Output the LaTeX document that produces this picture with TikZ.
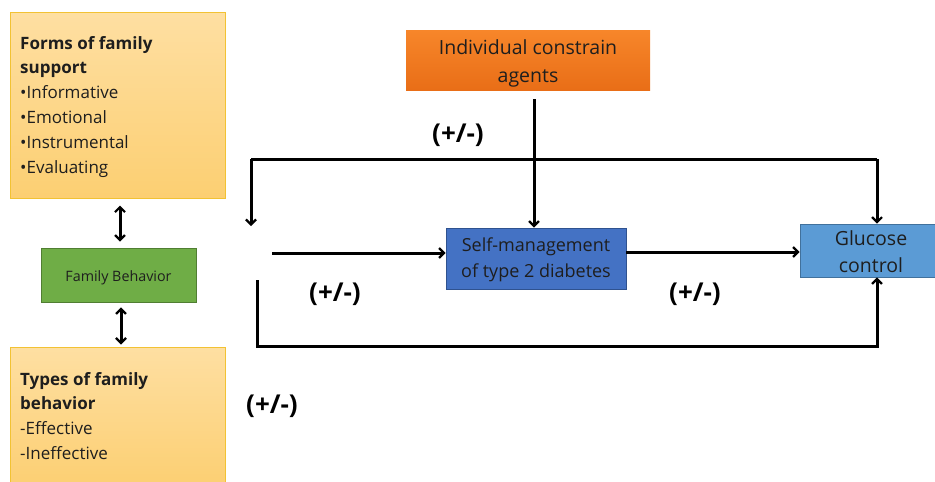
\documentclass[tikz,border=0pt]{standalone}
\usepackage{fontspec}
\setmainfont{Open Sans}
\usetikzlibrary{arrows.meta,calc}
\definecolor{txt}{HTML}{1E1E1E}
\definecolor{goldline}{HTML}{F2C233}
\definecolor{paleA}{HTML}{FEDFA2}
\definecolor{paleB}{HTML}{FCCF72}
\definecolor{orgA}{HTML}{F7862A}
\definecolor{orgB}{HTML}{E96E17}
\definecolor{grn}{HTML}{6FAD46}
\definecolor{grnline}{HTML}{507E32}
\definecolor{bluedark}{HTML}{4472C4}
\definecolor{bluedarkline}{HTML}{2F528F}
\definecolor{bluelight}{HTML}{5B9BD5}
\definecolor{bluelightline}{HTML}{41719C}
\newcommand{\bul}{•}
\tikzset{
  yellowbox/.style={draw=goldline, line width=1pt, top color=paleA, bottom color=paleB, inner sep=0pt},
  orangebox/.style={top color=orgA, bottom color=orgB, inner sep=0pt},
  greenbox/.style={draw=grnline, line width=0.8pt, fill=grn, inner sep=0pt},
  bluebox/.style={draw=bluedarkline, line width=0.8pt, fill=bluedark, inner sep=0pt},
  lbluebox/.style={draw=bluelightline, line width=0.8pt, fill=bluelight, inner sep=0pt},
  conn/.style={line width=3pt, draw=black},
  arr/.style={conn, -{Straight Barb[length=5pt,width=10pt,line width=2.2pt]}},
  darr/.style={conn, {Straight Barb[length=5pt,width=10pt,line width=2.2pt]}-{Straight Barb[length=5pt,width=10pt,line width=2.2pt]}},
  lbl/.style={font=\fontsize{26}{30}\selectfont\bfseries, text=black, inner sep=0pt},
  bodytxt/.style={text=txt, inner sep=0pt, align=left, anchor=north west, font=\fontsize{17}{25}\selectfont},
}
\begin{document}
\begin{tikzpicture}[x=1pt,y=-1pt]
\useasboundingbox (0,0) rectangle (935,482);
% boxes
\node[yellowbox, minimum width=215pt, minimum height=186pt] (forms) at (117.5,105) {};
\node[yellowbox, minimum width=215pt, minimum height=140pt] (types) at (117.5,417) {};
\node[greenbox, minimum width=155pt, minimum height=54pt] (famb) at (118.5,275) {};
\node[orangebox, minimum width=244pt, minimum height=60pt] (indiv) at (528,60) {};
\node[bluebox, minimum width=180pt, minimum height=61pt] (selfm) at (536,258.5) {};
\node[lbluebox, minimum width=142pt, minimum height=53pt] (gluc) at (871,250.5) {};
% texts
\node[text=txt, inner sep=0pt, font=\fontsize{14.3}{16}\selectfont] (fambtxt) at (118.5,278) {Family Behavior};
\node[bodytxt] (formstxt) at (20,36)
  {\textbf{Forms of family}\\[-1pt]\textbf{support}\\\bul Informative\\\bul Emotional\\\bul Instrumental\\\bul Evaluating};
\node[bodytxt] (typestxt) at (20,372)
  {\textbf{Types of family}\\[-1pt]\textbf{behavior}\\-Effective\\-Ineffective};
\node[text=txt, align=center, inner sep=0pt, font=\fontsize{19.5}{28}\selectfont] (indivtxt) at (528,63)
  {Individual constrain\\agents};
\node[text=txt, align=center, inner sep=0pt, font=\fontsize{18}{26}\selectfont] (selftxt) at (536,260)
  {Self-management\\of type 2 diabetes};
\node[text=txt, align=center, inner sep=0pt, font=\fontsize{19.5}{27}\selectfont] (gluctxt) at (871,252)
  {Glucose\\control};
% labels
\node[lbl] (l1) at (458,135) {(+/-)};
\node[lbl] (l2) at (335,294) {(+/-)};
\node[lbl] (l3) at (695,294) {(+/-)};
\node[lbl] (l4) at (272,406) {(+/-)};
% free coordinates
\coordinate (tl) at (251,159);
\coordinate (tlend) at (251,226);
\coordinate (tr) at (877,159);
\coordinate (mstart) at (272,253);
\coordinate (bstart) at (257,280);
\coordinate (bl) at (257,346);
\coordinate (br) at (877,346);
% connectors
\draw[darr] ([xshift=2.5pt,yshift=-7pt]forms.south) -- ([xshift=1.5pt,yshift=6pt]famb.north);
\draw[darr] ([xshift=2.5pt,yshift=-5pt]famb.south) -- ([xshift=3.5pt,yshift=2pt]types.north);
\draw[arr] ([shift={(6,9)}]indiv.south) -- (selfm.north -| 534,0);
\draw[conn, line join=miter] (tl) -- (tr);
\draw[arr] (tr) -- (gluc.north -| tr);
\draw[arr] (tl) -- (tlend);
\draw[arr] (mstart) -- (selfm.west |- mstart);
\draw[arr] (selfm.east |- 0,252) -- (gluc.west |- 0,252);
\draw[arr, line join=miter] (bstart) -- (bl) -- (br) -- (gluc.south -| br);
\end{tikzpicture}
\end{document}
